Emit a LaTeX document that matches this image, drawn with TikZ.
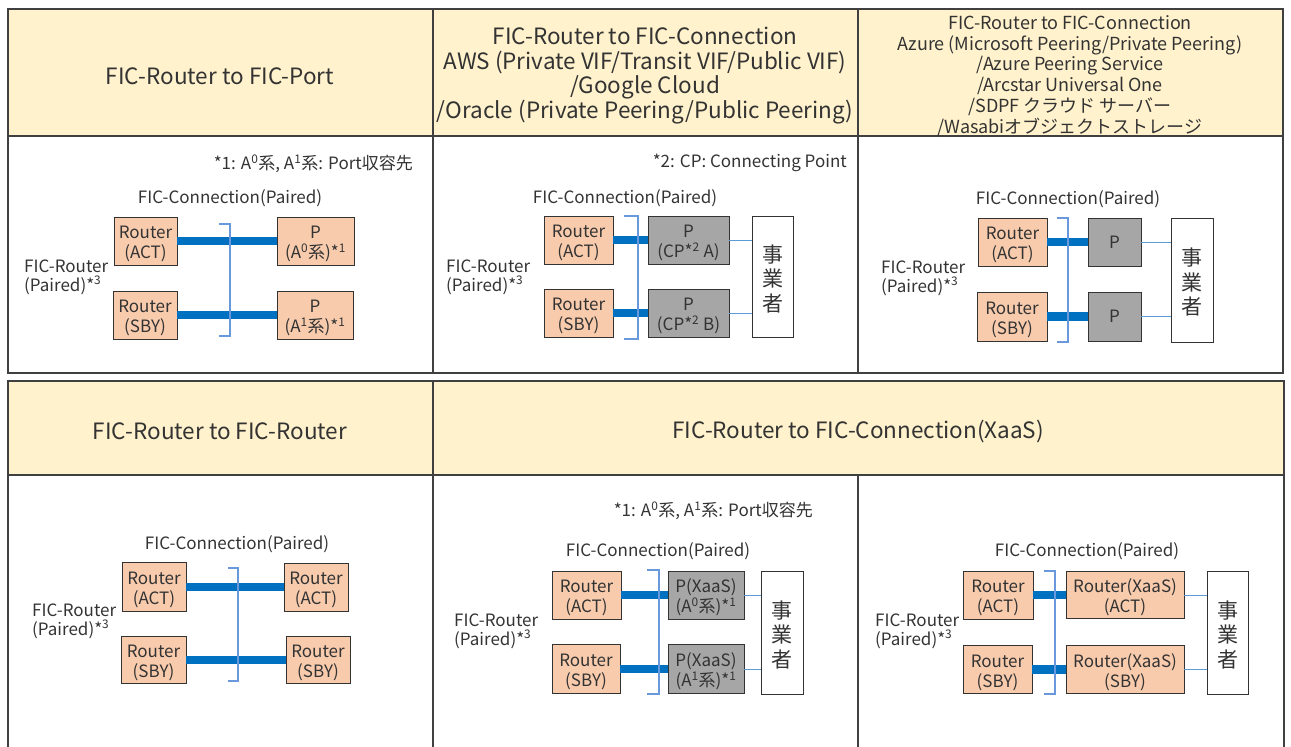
\documentclass[tikz,border=0pt]{standalone}
\usepackage{fontspec}
\setmainfont{Noto Sans CJK JP}
\usetikzlibrary{positioning}
\definecolor{hdrfill}{HTML}{FFF2CC}
\definecolor{rtrfill}{HTML}{F8CBAD}
\definecolor{pfill}{HTML}{A6A6A6}
\definecolor{trunkblue}{HTML}{0070C0}
\definecolor{tieblue}{HTML}{5B9BD5}
\definecolor{brkblue}{HTML}{6A98DC}
\definecolor{ink}{HTML}{333333}

\begin{document}
\begin{tikzpicture}[
x=1pt, y=-1pt,
frame/.style={
  draw=black!75,
  line width=1.6pt
  },
hdr/.style={
  fill=hdrfill,
  draw=none
  },
box/.style={
  draw=black!80,
  line width=0.9pt,
  rectangle,
  inner sep=0pt,
  align=center,
  text=ink,
  text height=38.5pt,
  font=\fontsize{17}{20}\selectfont
  },
rtr/.style={
  box,
  fill=rtrfill
  },
pnode/.style={
  box,
  fill=pfill
  },
opbox/.style={
  box,
  fill=white,
  text height=71pt,
  font=\fontsize{21}{24.5}\selectfont
  },
trunk/.style={
  draw=trunkblue,
  line width=8.5pt
  },
tie/.style={
  draw=tieblue,
  line width=1pt
  },
brk/.style={
  draw=brkblue,
  line width=1.2pt
  },
lbl/.style={
  text=ink,
  inner sep=0pt,
  font=\fontsize{17}{19}\selectfont
  },
title/.style={
  text=ink,
  inner sep=0pt,
  align=center,
  font=\fontsize{22.5}{24.5}\selectfont
  },
>=latex
]
\useasboundingbox (0,0) rectangle (1291,747);

% header cells
\fill[hdr] (8,9) rectangle (1283,136);
\fill[hdr] (8,381) rectangle (1284,475);

% table frames
\draw[frame] (8,9) rectangle (1283,373);
\draw[frame] (8,136) -- (1283,136);
\draw[frame] (433,9) -- (433,373);
\draw[frame] (858,9) -- (858,373);
\draw[frame] (8,747) -- (8,381) -- (1284,381) -- (1284,747);
\draw[frame] (8,475) -- (1284,475);
\draw[frame] (433,381) -- (433,747);
\draw[frame] (858,475) -- (858,747);

% titles
\node[title] (t1) at (220,76) {FIC-Router to FIC-Port};
\node[title] (t2) at (645,75.5) {FIC-Router to FIC-Connection\\AWS (Private VIF/Transit VIF/Public VIF)\\/Google Cloud\\/Oracle (Private Peering/Public Peering)};
\node[title, font=\fontsize{18}{20.9}\selectfont] (t3) at (1070,76) {FIC-Router to FIC-Connection\\Azure (Microsoft Peering/Private Peering)\\/Azure Peering Service\\/Arcstar Universal One\\/SDPF クラウド サーバー\\/Wasabiオブジェクトストレージ};
\node[title] (t4) at (220,431) {FIC-Router to FIC-Router};
\node[title] (t5) at (858,431) {FIC-Router to FIC-Connection(XaaS)};

% panel 1: FIC-Port
\node[lbl, anchor=east] (n1) at (413,164) {*1: A\textsuperscript{0}系, A\textsuperscript{1}系: Port収容先};
\node[lbl] (c1) at (230,198) {FIC-Connection(Paired)};
\node[lbl, align=left, anchor=west] (f1) at (24,277) {FIC-Router\\(Paired)*\textsuperscript{3}};
\node[rtr, minimum width=63, minimum height=48] (p1ra) at (145.5,241) {Router\\(ACT)};
\node[rtr, minimum width=64, minimum height=48] (p1rs) at (145,315) {Router\\(SBY)};
\node[rtr, minimum width=77, minimum height=48] (p1pa) at (315.5,241) {P\\(A\textsuperscript{0}系)*\textsuperscript{1}};
\node[rtr, minimum width=76, minimum height=48] (p1pb) at (315,315) {P\\(A\textsuperscript{1}系)*\textsuperscript{1}};
\draw[trunk] (p1ra) -- (p1pa);
\draw[trunk] (p1rs) -- (p1pb);
\draw[brk] (219,224) -- (230,224) -- (230,336) -- (219,336);

% panel 2: AWS / Google / Oracle
\node[lbl, anchor=east] (n2) at (847,163) {*2: CP: Connecting Point};
\node[lbl] (c2) at (625,198) {FIC-Connection(Paired)};
\node[lbl, align=left, anchor=west] (f2) at (446,277) {FIC-Router\\(Paired)*\textsuperscript{3}};
\node[rtr, minimum width=69, minimum height=48] (p2ra) at (578.5,240) {Router\\(ACT)};
\node[rtr, minimum width=69, minimum height=48] (p2rs) at (578.5,313) {Router\\(SBY)};
\node[pnode, minimum width=81, minimum height=48] (p2pa) at (688.5,240) {P\\(CP*\textsuperscript{2} A)};
\node[pnode, minimum width=81, minimum height=48] (p2pb) at (688.5,313) {P\\(CP*\textsuperscript{2} B)};
\node[opbox, minimum width=41, minimum height=121] (p2op) at (772.5,276.5) {事\\業\\者};
\draw[trunk] (p2ra) -- (p2pa);
\draw[trunk] (p2rs) -- (p2pb);
\draw[tie] (p2pa) -- (p2pa -| p2op.west);
\draw[tie] (p2pb) -- (p2pb -| p2op.west);
\draw[brk] (624,216) -- (638,216) -- (638,339) -- (624,339);

% panel 3: Azure / Arcstar / SDPF / Wasabi
\node[lbl] (c3) at (1068,199) {FIC-Connection(Paired)};
\node[lbl, align=left, anchor=west] (f3) at (881,278) {FIC-Router\\(Paired)*\textsuperscript{3}};
\node[rtr, minimum width=69, minimum height=48] (p3ra) at (1012.5,242) {Router\\(ACT)};
\node[rtr, minimum width=70, minimum height=49] (p3rs) at (1012,316.5) {Router\\(SBY)};
\node[pnode, text height=12.5pt, minimum width=53, minimum height=48] (p3pa) at (1114.5,242) {P};
\node[pnode, text height=12.5pt, minimum width=53, minimum height=49] (p3pb) at (1114.5,316.5) {P};
\node[opbox, minimum width=42, minimum height=124] (p3op) at (1192,280) {事\\業\\者};
\draw[trunk] (p3ra) -- (p3pa);
\draw[trunk] (p3rs) -- (p3pb);
\draw[tie] (p3pa) -- (p3pa -| p3op.west);
\draw[tie] (p3pb) -- (p3pb -| p3op.west);
\draw[brk] (1057,218) -- (1068,218) -- (1068,342) -- (1057,342);

% panel 4: FIC-Router to FIC-Router
\node[lbl] (c4) at (237,544) {FIC-Connection(Paired)};
\node[lbl, align=left, anchor=west] (f4) at (32,621) {FIC-Router\\(Paired)*\textsuperscript{3}};
\node[rtr, minimum width=64, minimum height=49] (p4ra) at (154,587) {Router\\(ACT)};
\node[rtr, minimum width=65, minimum height=47] (p4rs) at (153.5,660) {Router\\(SBY)};
\node[rtr, minimum width=64, minimum height=48] (p4xa) at (316,587) {Router\\(ACT)};
\node[rtr, minimum width=64, minimum height=47] (p4xs) at (318,660) {Router\\(SBY)};
\draw[trunk] (p4ra) -- (p4xa);
\draw[trunk] (p4rs) -- (p4xs);
\draw[brk] (228,568) -- (238,568) -- (238,681) -- (228,681);

% panel 5: XaaS P
\node[lbl, anchor=east] (n5) at (813,511) {*1: A\textsuperscript{0}系, A\textsuperscript{1}系: Port収容先};
\node[lbl] (c5) at (658,551) {FIC-Connection(Paired)};
\node[lbl, align=left, anchor=west] (f5) at (454,631) {FIC-Router\\(Paired)*\textsuperscript{3}};
\node[rtr, minimum width=69, minimum height=48] (p5ra) at (586.5,595) {Router\\(ACT)};
\node[rtr, minimum width=68, minimum height=49] (p5rs) at (586,669) {Router\\(SBY)};
\node[pnode, minimum width=76, minimum height=48] (p5pa) at (706,595) {P(XaaS)\\(A\textsuperscript{0}系)*\textsuperscript{1}};
\node[pnode, minimum width=76, minimum height=49] (p5pb) at (706,669) {P(XaaS)\\(A\textsuperscript{1}系)*\textsuperscript{1}};
\node[opbox, minimum width=42, minimum height=123] (p5op) at (782,632.5) {事\\業\\者};
\draw[trunk] (p5ra) -- (p5pa);
\draw[trunk] (p5rs) -- (p5pb);
\draw[tie] (p5pa) -- (p5pa -| p5op.west);
\draw[tie] (p5pb) -- (p5pb -| p5op.west);
\draw[brk] (647,570) -- (659,570) -- (659,694) -- (647,694);

% panel 6: XaaS Router
\node[lbl] (c6) at (1087,551) {FIC-Connection(Paired)};
\node[lbl, align=left, anchor=west] (f6) at (875,631) {FIC-Router\\(Paired)*\textsuperscript{3}};
\node[rtr, minimum width=70, minimum height=48] (p6ra) at (998,595) {Router\\(ACT)};
\node[rtr, minimum width=69, minimum height=48] (p6rs) at (997.5,669.5) {Router\\(SBY)};
\node[rtr, minimum width=118, minimum height=47] (p6xa) at (1125,595) {Router(XaaS)\\(ACT)};
\node[rtr, minimum width=118, minimum height=48] (p6xs) at (1125,669.5) {Router(XaaS)\\(SBY)};
\node[opbox, minimum width=41, minimum height=123] (p6op) at (1227.5,632.5) {事\\業\\者};
\draw[trunk] (p6ra) -- (p6xa);
\draw[trunk] (p6rs) -- (p6xs);
\draw[tie] (p6xa) -- (p6xa -| p6op.west);
\draw[tie] (p6xs) -- (p6xs -| p6op.west);
\draw[brk] (1044,571) -- (1055,571) -- (1055,694) -- (1044,694);

\end{tikzpicture}
\end{document}
